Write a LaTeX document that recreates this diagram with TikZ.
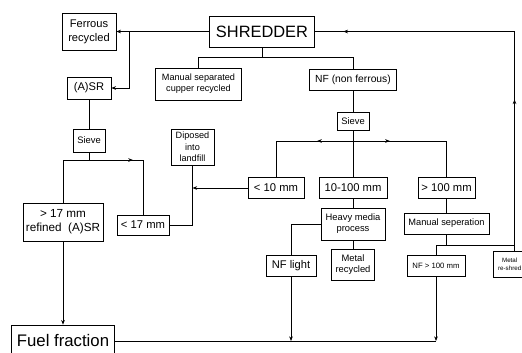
\documentclass[tikz,border=0pt]{standalone}
\usepackage{fontspec}
\setmainfont{Liberation Sans}
\usetikzlibrary{arrows.meta,decorations.markings}

\begin{document}
\begin{tikzpicture}[x=0.3mm,y=-0.3mm,>={Stealth[length=1.4mm,width=1.1mm]},
  box/.style={draw,line width=0.6pt,inner sep=1pt,align=center},
  link/.style={line width=0.6pt},
  arrowat/.style={postaction={decorate,decoration={markings,mark=at position #1 with {\arrow{Stealth[length=1.4mm,width=1.1mm]}}}}}]
  \clip (0,0) rectangle (522,352);
  \node[box,minimum width=16.2mm,minimum height=11.1mm,font=\fontsize{9.5}{12}\selectfont] (ferrous) at (89,31.5) {Ferrous\\recycled};
  \node[box,minimum width=31.5mm,minimum height=9.3mm,font=\fontsize{14}{16}\selectfont] (shred) at (262,31.5) {SHREDDER};
  \node[box,minimum width=13.2mm,minimum height=6.6mm,font=\fontsize{9.5}{11}\selectfont] (asr) at (89,88) {(A)SR};
  \node[box,minimum width=25.8mm,minimum height=9.6mm,font=\fontsize{7.8}{9.4}\selectfont] (cupper) at (198.5,84) {Manual separated\\cupper recycled};
  \node[box,minimum width=26.1mm,minimum height=6.3mm,font=\fontsize{8.8}{10}\selectfont] (nf) at (353,79.5) {NF (non ferrous)};
  \node[box,minimum width=9.6mm,minimum height=6.9mm,font=\fontsize{8}{9}\selectfont] (sieveL) at (89,140.5) {Sieve};
  \node[box,minimum width=9.6mm,minimum height=5.4mm,font=\fontsize{8}{9}\selectfont] (sieveR) at (353,121) {Sieve};
  \node[box,minimum width=12.9mm,minimum height=10.8mm,font=\fontsize{7.8}{9.7}\selectfont] (landfill) at (192.5,147) {Diposed\\into\\landfill};
  \node[box,minimum width=16.8mm,minimum height=6.3mm,font=\fontsize{9.6}{11}\selectfont] (lt10) at (276,188) {< 10 mm};
  \node[box,minimum width=20.4mm,minimum height=6.3mm,font=\fontsize{9.6}{11}\selectfont] (mid) at (353,187.5) {10-100 mm};
  \node[box,minimum width=17.1mm,minimum height=6.3mm,font=\fontsize{9.6}{11}\selectfont] (gt100) at (446.5,187.5) {> 100 mm};
  \node[box,minimum width=19.2mm,minimum height=9.6mm,font=\fontsize{8}{9.4}\selectfont] (heavy) at (353,224) {Heavy media\\process};
  \node[box,minimum width=25.5mm,minimum height=6.3mm,font=\fontsize{7.9}{9}\selectfont] (msep) at (446.5,223.5) {Manual seperation};
  \node[box,minimum width=15mm,minimum height=6.3mm,font=\fontsize{9.5}{11}\selectfont] (nflight) at (291,265.5) {NF light};
  \node[box,minimum width=12.9mm,minimum height=9.3mm,font=\fontsize{8}{9.4}\selectfont] (metalrec) at (353,264.5) {Metal\\recycled};
  \node[box,minimum width=17.4mm,minimum height=6.3mm,font=\fontsize{6.6}{8}\selectfont] (nf100) at (436,265.5) {NF > 100 mm};
  \node[box,minimum width=10mm,minimum height=7.8mm,font=\fontsize{5.3}{6.8}\selectfont] (reshred) at (509.7,264) {Metal\\re-shred};
  \node[box,minimum width=24mm,minimum height=11.4mm,font=\fontsize{10}{12}\selectfont] (gt17) at (63,222) {> 17 mm\\refined\ \ (A)SR};
  \node[box,minimum width=15.6mm,minimum height=6mm,font=\fontsize{9.6}{11}\selectfont] (lt17) at (143,225) {< 17 mm};
  \node[box,minimum width=30.9mm,minimum height=9.6mm,font=\fontsize{14.3}{16}\selectfont] (fuel) at (63,341) {Fuel fraction};
  \coordinate (j1) at (129,31.5);
  \coordinate (j2) at (262,57);
  \coordinate (j3) at (353,141);
  \coordinate (j5) at (89,160);
  \coordinate (j6) at (446.5,245);
  \coordinate (j7) at (514.5,245);
  \draw[link,->] (shred) -- (ferrous);
  \draw[link,->] (j1) |- (asr);
  \draw[link] (shred) -- (j2) -| (cupper);
  \draw[link] (j2) -| (nf);
  \draw[link] (nf) -- (sieveR);
  \draw[link] (sieveR) -- (j3);
  \draw[link,arrowat=0.317] (j3) -| (lt10);
  \draw[link] (j3) -- (mid);
  \draw[link,arrowat=0.285] (j3) -| (gt100);
  \draw[link,->] (lt10) -- (lt10 -| landfill);
  \draw[link] (lt17) -| (landfill);
  \draw[link] (asr) -- (sieveL);
  \draw[link] (sieveL) -- (j5) -| (gt17);
  \draw[link,arrowat=0.404] (j5) -| (lt17);
  \draw[link,->] (gt17) -- (fuel);
  \draw[link] (mid) -- (heavy);
  \draw[link] (heavy) -- (metalrec);
  \draw[link] (heavy.west) -| (nflight);
  \draw[link] (gt100) -- (msep);
  \draw[link] (msep) -- (j6) -| (nf100);
  \draw[link] (j6) -- (j7);
  \draw[link,arrowat=0.361,arrowat=0.932] (reshred.north -| j7) |- (shred);
  \draw[link] (fuel) -- (fuel -| nf100);
  \draw[link,->] (nflight) -- (nflight |- fuel);
  \draw[link,->] (nf100) -- (nf100 |- fuel);
\end{tikzpicture}
\end{document}
